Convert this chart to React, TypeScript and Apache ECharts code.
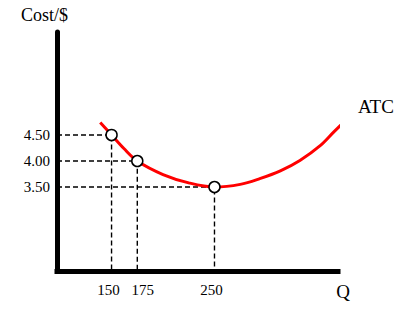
import React, { useEffect, useRef } from "react";
import * as echarts from "echarts";

const curveQ = [139, 150, 162, 175, 200, 225, 250, 275, 294, 314, 333, 353, 366, 380];
const curveCost = [4.74, 4.5, 4.24, 4.0, 3.74, 3.58, 3.5, 3.55, 3.66, 3.81, 4.01, 4.3, 4.56, 4.83];
const pointQ = [150, 175, 250];
const pointCost = [4.5, 4.0, 3.5];
const xTicks = [150, 175, 250];
const yTicks = [3.5, 4.0, 4.5];

const X_MIN = 97;
const X_MAX = 370;
const Y_MIN = 1.885;
const Y_MAX = 6.48;
const FONT = "Liberation Serif";

export default function App() {
  const ref = useRef<HTMLDivElement>(null);
  useEffect(() => {
    if (!ref.current) return;
    const chart = echarts.init(ref.current, null, { renderer: "svg" });
    const guides = pointQ.map((q, i) => ({
      type: "line",
      data: [
        [X_MIN, pointCost[i]],
        [q, pointCost[i]],
        [q, Y_MIN],
      ],
      symbol: "none",
      silent: true,
      z: 1,
      lineStyle: { color: "#000", width: 1.4, type: [5, 3] },
    }));
    chart.setOption({
      animation: false,
      backgroundColor: "#fff",
      grid: {
        left: 57,
        right: 66,
        top: 32,
        bottom: 42,
        containLabel: false,
        outerBoundsMode: "none",
      },
      xAxis: {
        type: "value",
        min: X_MIN,
        max: X_MAX,
        name: "Q",
        nameLocation: "end",
        nameGap: 5,
        nameTextStyle: {
          fontFamily: FONT,
          fontSize: 19,
          color: "#000",
          align: "center",
          verticalAlign: "top",
          padding: [11, 0, 0, 0],
        },
        axisLine: { show: true, lineStyle: { color: "#000", width: 5, cap: "square" } },
        axisTick: { show: false },
        splitLine: { show: false },
        axisLabel: {
          customValues: xTicks,
          margin: 11,
          fontFamily: FONT,
          fontSize: 15,
          color: "#000",
          formatter: (v: number) =>
            v === 150 ? `{l|${v}}` : v === 175 ? `{r|${v}}` : `{c|${v}}`,
          rich: {
            l: { fontFamily: FONT, fontSize: 15, color: "#000", padding: [0, 6, 0, 0] },
            r: { fontFamily: FONT, fontSize: 15, color: "#000", padding: [0, 0, 0, 11] },
            c: { fontFamily: FONT, fontSize: 15, color: "#000", padding: [0, 6, 4, 0] },
          },
        },
      },
      yAxis: {
        type: "value",
        min: Y_MIN,
        max: Y_MAX,
        name: "Cost/$",
        nameLocation: "end",
        nameGap: 17,
        nameTextStyle: {
          fontFamily: FONT,
          fontSize: 18,
          color: "#000",
          align: "center",
          verticalAlign: "middle",
          padding: [0, 25, 0, 0],
        },
        axisLine: { show: true, lineStyle: { color: "#000", width: 5 } },
        axisTick: { show: false },
        splitLine: { show: false },
        axisLabel: {
          customValues: yTicks,
          margin: 7,
          fontFamily: FONT,
          fontSize: 15,
          color: "#000",
          formatter: (v: number) => v.toFixed(2),
        },
      },
      series: [
        ...guides,
        {
          type: "line",
          name: "ATC",
          data: curveQ.map((q, i) => [q, curveCost[i]]),
          smooth: 0.35,
          symbol: "none",
          clip: false,
          z: 3,
          lineStyle: { color: "#ff0000", width: 3 },
          endLabel: {
            show: true,
            formatter: "ATC",
            fontFamily: FONT,
            fontSize: 19,
            color: "#000",
            offset: [10, -19],
          },
        },
        {
          type: "scatter",
          data: pointQ.map((q, i) => [q, pointCost[i]]),
          symbol: "circle",
          symbolSize: 11,
          z: 5,
          itemStyle: { color: "#fff", borderColor: "#000", borderWidth: 1.5, opacity: 1 },
        },
      ],
    });
    return () => chart.dispose();
  }, []);
  return <div ref={ref} style={{ width: 404, height: 313, margin: -8 }} />;
}
